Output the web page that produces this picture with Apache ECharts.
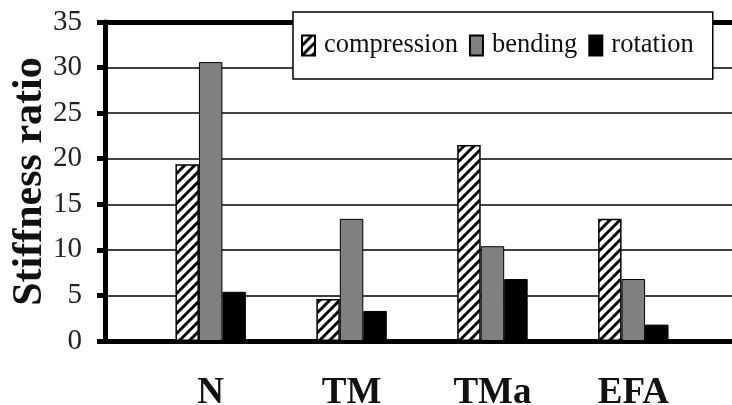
<!DOCTYPE html>
<html>
<head>
<meta charset="utf-8">
<script src="https://cdn.jsdelivr.net/npm/echarts@6/dist/echarts.min.js"></script>
<style>html,body{margin:0;padding:0;background:#fff;}#c{width:732px;height:405px;}</style>
</head>
<body>
<div id="c"></div>
<script>
var groups = ['N', 'TM', 'TMa', 'EFA'];
var compression = [19.4, 4.6, 21.5, 13.4];
var bending = [30.6, 13.4, 10.4, 6.8];
var rotation = [5.4, 3.3, 6.8, 1.8];
var yTicks = [0, 5, 10, 15, 20, 25, 30, 35];

// Excel-style layout: a blank slot between and around groups
function pad(arr) {
  var out = [null];
  arr.forEach(function (v) { out.push(v, null); });
  return out;
}
var categories = pad(groups).map(function (v, i) { return i % 2 ? groups[(i - 1) / 2] : ''; });

// hatch pattern
var tile = document.createElement('canvas');
tile.width = 10; tile.height = 10;
var g = tile.getContext('2d');
g.fillStyle = '#fff'; g.fillRect(0, 0, 10, 10);
g.strokeStyle = '#000'; g.lineWidth = 3;
g.beginPath();
g.moveTo(-2, 12); g.lineTo(12, -2);
g.moveTo(-7, 7); g.lineTo(7, -7);
g.moveTo(3, 17); g.lineTo(17, 3);
g.stroke();
var hatch = { image: tile, repeat: 'repeat' };

var serif = "'Liberation Serif', 'Times New Roman', 'DejaVu Serif', serif";
var chart = echarts.init(document.getElementById('c'));
chart.setOption({
  animation: false,
  backgroundColor: '#fff',
  grid: { left: 105, top: 22, width: 634, bottom: 64, containLabel: false, outerBoundsMode: 'none' },
  legend: {
    left: 293, top: 12,
    backgroundColor: '#fff', borderColor: '#000', borderWidth: 1.5,
    padding: [20, 19, 20, 8],
    icon: 'rect',
    itemWidth: 13, itemHeight: 20, itemGap: 11,
    textStyle: { fontFamily: serif, fontSize: 26.5, color: '#111', padding: [0, 0, 0, 4] },
    data: ['compression', 'bending', 'rotation']
  },
  xAxis: [{
    type: 'category', data: categories, position: 'bottom',
    axisLine: { lineStyle: { color: '#000', width: 5 } },
    axisTick: { interval: 0, length: 11, lineStyle: { color: '#000', width: 3 } },
    axisLabel: { interval: 0, margin: 34, fontFamily: serif, fontWeight: 'bold', fontSize: 37, color: '#111' }
  }, {
    type: 'category', data: categories, position: 'top',
    axisLine: { lineStyle: { color: '#000', width: 5 } },
    axisTick: { show: false }, axisLabel: { show: false }
  }],
  yAxis: {
    type: 'value', min: yTicks[0], max: yTicks[yTicks.length - 1], interval: 5,
    name: 'Stiffness ratio', nameLocation: 'middle', nameGap: 54, nameMoveOverlap: false,
    nameTextStyle: { fontFamily: serif, fontWeight: 'bold', fontSize: 42, color: '#111' },
    axisLine: { show: true, lineStyle: { color: '#000', width: 5 } },
    axisTick: { show: true, length: 8, lineStyle: { color: '#000', width: 5 } },
    axisLabel: { margin: 23, fontFamily: serif, fontSize: 29, color: '#222' },
    splitLine: { lineStyle: { color: '#000', width: 1.5 } }
  },
  series: [
    { name: 'compression', type: 'bar', data: pad(compression), barGap: '0%', barCategoryGap: '0%',
      itemStyle: { color: hatch, borderColor: '#000', borderWidth: 1.5 } },
    { name: 'bending', type: 'bar', data: pad(bending),
      itemStyle: { color: '#808080', borderColor: '#000', borderWidth: 1 } },
    { name: 'rotation', type: 'bar', data: pad(rotation),
      itemStyle: { color: '#000', borderColor: '#000', borderWidth: 1 } }
  ]
});
</script>
</body>
</html>
